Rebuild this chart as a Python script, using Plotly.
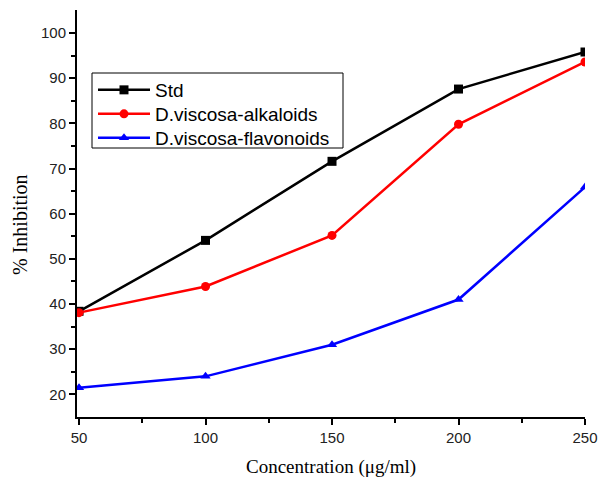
import plotly.graph_objects as go

conc = [50, 100, 150, 200, 250]
std = [38.4, 54.1, 71.6, 87.6, 95.8]
alkaloids = [38.1, 43.9, 55.2, 79.8, 93.6]
flavonoids = [21.5, 24.0, 31.0, 41.0, 65.9]

series = [
    ("Std", std, "black", "square"),
    ("D.viscosa-alkaloids", alkaloids, "red", "circle"),
    ("D.viscosa-flavonoids", flavonoids, "blue", "triangle-up"),
]

PW, PH, L, T = 508, 407, 77, 10
legend_ids = ["legend", "legend2", "legend3"]
item_centers = [88, 112, 136]

fig = go.Figure()
for (name, vals, color, sym), lid in zip(series, legend_ids):
    fig.add_trace(go.Scatter(
        x=conc, y=vals, name=name, mode="lines+markers", legend=lid,
        line=dict(color=color, width=2.5),
        marker=dict(symbol=sym, size=9, color=color),
    ))

legend_layout = {}
for lid, c in zip(legend_ids, item_centers):
    legend_layout[lid] = dict(
        x=(93 - L) / PW, y=1 - (c - 17 - T) / PH, xanchor="left", yanchor="top",
        borderwidth=0, bgcolor="rgba(0,0,0,0)",
        font=dict(family="Arial, Liberation Sans", size=19, color="black"),
        itemwidth=52,
    )

fig.update_layout(
    width=602, height=479,
    margin=dict(l=77, r=17, t=10, b=62),
    plot_bgcolor="white", paper_bgcolor="white",
    font=dict(family="Arial, Liberation Sans", size=15, color="#222"),
    showlegend=True,
    **legend_layout,
    shapes=[
        dict(type="rect", xref="paper", yref="paper", layer="below",
             x0=(92 - L) / PW, x1=(343 - L) / PW,
             y0=1 - (148 - T) / PH, y1=1 - (73 - T) / PH,
             line=dict(color="black", width=1), fillcolor="white"),
    ],
    annotations=[
        dict(text="Concentration (μg/ml)", xref="paper", yref="paper",
             x=(331 - L) / PW, y=-(467 - 417) / PH, xanchor="center", yanchor="middle",
             showarrow=False, font=dict(family="Times New Roman, Liberation Serif", size=19, color="black")),
        dict(text="% Inhibition", xref="paper", yref="paper", textangle=-90,
             x=-(L - 20) / PW, y=1 - (225 - T) / PH, xanchor="center", yanchor="middle",
             showarrow=False, font=dict(family="Times New Roman, Liberation Serif", size=20, color="black")),
    ],
)
fig.update_xaxes(
    range=[49.2, 250], tickvals=[50, 100, 150, 200, 250], automargin=False,
    showline=True, linecolor="black", linewidth=2,
    ticks="outside", ticklen=6, tickwidth=2, tickcolor="black",
    minor=dict(tickvals=[75, 125, 175, 225], ticks="outside", ticklen=4, tickwidth=1.5, tickcolor="black"),
    showgrid=False, zeroline=False,
    tickfont=dict(size=15, color="#222"),
)
fig.update_yaxes(
    range=[15, 105.1], tickvals=[20, 30, 40, 50, 60, 70, 80, 90, 100], automargin=False,
    showline=True, linecolor="black", linewidth=2,
    ticks="outside", ticklen=6, tickwidth=2, tickcolor="black",
    minor=dict(tickvals=[25, 35, 45, 55, 65, 75, 85, 95], ticks="outside", ticklen=4, tickwidth=1.5, tickcolor="black"),
    showgrid=False, zeroline=False,
    tickfont=dict(size=15, color="#222"),
)

fig.write_html("out.html")
